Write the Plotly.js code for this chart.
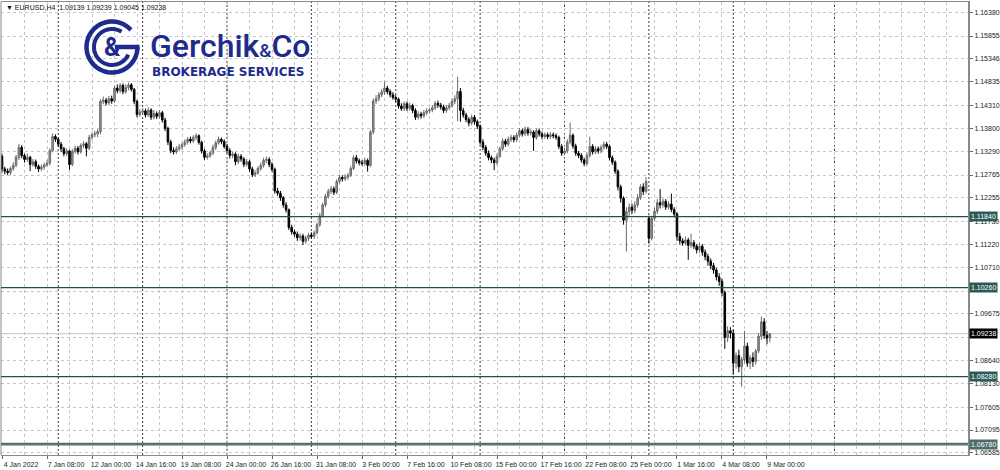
<!DOCTYPE html>
<html><head><meta charset="utf-8">
<script src="https://cdn.plot.ly/plotly-3.0.1.min.js"></script>
<style>html,body{margin:0;padding:0;background:#fff}#chart{width:1000px;height:470px}</style>
</head><body><div id="chart"></div>
<script>
// ---------------- DATA (EURUSD, H4) ----------------
const symbol = 'EURUSD,H4';

const open = [
1.1318,1.1290,
1.1285,1.1282,1.1291,1.1298,1.1316,1.1338,
1.1320,1.1311,1.1316,1.1300,1.1306,1.1296,
1.1290,1.1294,1.1299,1.1303,1.1331,1.1362,
1.1356,1.1345,1.1335,1.1324,1.1330,1.1300,
1.1329,1.1336,1.1328,1.1342,1.1346,1.1336,
1.1360,1.1366,1.1368,1.1373,1.1440,1.1443,
1.1437,1.1446,1.1441,1.1470,1.1464,1.1476,
1.1462,1.1471,1.1477,1.1467,1.1440,1.1411,
1.1416,1.1419,1.1410,1.1421,1.1405,1.1413,
1.1407,1.1415,1.1399,1.1380,1.1350,1.1331,
1.1328,1.1335,1.1339,1.1344,1.1350,1.1356,
1.1352,1.1360,1.1364,1.1349,1.1330,1.1316,
1.1319,1.1326,1.1338,1.1348,1.1356,1.1351,
1.1340,1.1331,1.1320,1.1323,1.1306,1.1318,
1.1312,1.1300,1.1306,1.1290,1.1277,1.1281,
1.1291,1.1298,1.1309,1.1311,1.1300,1.1289,
1.1241,1.1236,1.1226,1.1210,1.1199,1.1160,
1.1150,1.1145,1.1137,1.1141,1.1129,1.1136,
1.1143,1.1140,1.1148,1.1166,1.1186,1.1210,
1.1229,1.1240,1.1246,1.1238,1.1262,1.1271,
1.1268,1.1272,1.1276,1.1291,1.1315,1.1308,
1.1304,1.1302,1.1309,1.1298,1.1372,1.1441,
1.1446,1.1455,1.1461,1.1470,1.1462,1.1455,
1.1449,1.1445,1.1430,1.1424,1.1435,1.1425,
1.1431,1.1420,1.1405,1.1412,1.1408,1.1415,
1.1419,1.1421,1.1426,1.1436,1.1432,1.1428,
1.1420,1.1426,1.1431,1.1440,1.1446,1.1462,
1.1420,1.1410,1.1400,1.1392,1.1405,1.1395,
1.1385,1.1350,1.1338,1.1325,1.1315,1.1310,
1.1304,1.1318,1.1335,1.1352,1.1345,1.1356,
1.1360,1.1355,1.1365,1.1375,1.1368,1.1378,
1.1370,1.1372,1.1360,1.1375,1.1368,1.1362,
1.1366,1.1362,1.1366,1.1364,1.1360,1.1340,
1.1325,1.1330,1.1350,1.1365,1.1341,1.1325,
1.1320,1.1310,1.1302,1.1320,1.1340,1.1328,
1.1335,1.1330,1.1338,1.1345,1.1340,1.1315,
1.1305,1.1285,1.1250,1.1225,1.1176,1.1195,
1.1205,1.1198,1.1210,1.1226,1.1250,1.1240,
1.1180,1.1136,1.1180,1.1196,1.1215,1.1210,
1.1218,1.1205,1.1212,1.1200,1.1190,1.1140,
1.1130,1.1125,1.1132,1.1120,1.1126,1.1118,
1.1110,1.1118,1.1105,1.1095,1.1085,1.1075,
1.1065,1.1050,1.1040,1.1015,1.0915,1.0930,
1.0925,1.0858,1.0875,1.0850,1.0866,1.0896,
1.0858,1.0870,1.0862,1.0885,1.0918,1.0950,
1.0920,1.09139
];

const high = [
1.1324,1.1295,
1.1291,1.1295,1.1305,1.1321,1.1346,1.1343,
1.1324,1.1324,1.1319,1.1312,1.1311,1.1300,
1.1300,1.1304,1.1310,1.1336,1.1369,1.1367,
1.1360,1.1350,1.1339,1.1336,1.1333,1.1334,
1.1342,1.1341,1.1347,1.1352,1.1350,1.1366,
1.1372,1.1375,1.1378,1.1445,1.1451,1.1448,
1.1452,1.1453,1.1476,1.1478,1.1481,1.1480,
1.1478,1.1482,1.1481,1.1470,1.1444,1.1423,
1.1425,1.1424,1.1427,1.1425,1.1421,1.1418,
1.1421,1.1419,1.1404,1.1384,1.1355,1.1338,
1.1341,1.1346,1.1349,1.1356,1.1361,1.1362,
1.1365,1.1369,1.1367,1.1353,1.1335,1.1325,
1.1331,1.1344,1.1353,1.1362,1.1360,1.1356,
1.1346,1.1336,1.1329,1.1327,1.1324,1.1323,
1.1316,1.1312,1.1310,1.1295,1.1287,1.1296,
1.1304,1.1315,1.1318,1.1316,1.1305,1.1293,
1.1248,1.1241,1.1230,1.1216,1.1202,1.1166,
1.1155,1.1151,1.1147,1.1146,1.1142,1.1148,
1.1149,1.1153,1.1171,1.1192,1.1215,1.1235,
1.1246,1.1252,1.1251,1.1267,1.1277,1.1276,
1.1278,1.1281,1.1297,1.1320,1.1321,1.1313,
1.1310,1.1315,1.1313,1.1377,1.1447,1.1454,
1.1461,1.1468,1.1484,1.1475,1.1467,1.1461,
1.1454,1.1449,1.1436,1.1440,1.1440,1.1437,
1.1435,1.1425,1.1418,1.1417,1.1421,1.1425,
1.1426,1.1432,1.1441,1.1442,1.1437,1.1433,
1.1432,1.1437,1.1446,1.1454,1.1495,1.1470,
1.1426,1.1415,1.1405,1.1411,1.1410,1.1400,
1.1389,1.1356,1.1343,1.1331,1.1320,1.1315,
1.1324,1.1340,1.1358,1.1357,1.1362,1.1366,
1.1365,1.1371,1.1381,1.1380,1.1384,1.1383,
1.1378,1.1376,1.1380,1.1380,1.1373,1.1371,
1.1371,1.1372,1.1371,1.1369,1.1364,1.1345,
1.1336,1.1356,1.1393,1.1369,1.1346,1.1330,
1.1325,1.1315,1.1326,1.1362,1.1345,1.1341,
1.1340,1.1344,1.1351,1.1350,1.1344,1.1320,
1.1309,1.1289,1.1255,1.1229,1.1205,1.1213,
1.1213,1.1218,1.1234,1.1256,1.1258,1.1272,
1.1186,1.1186,1.1204,1.1223,1.1245,1.1224,
1.1223,1.1218,1.1235,1.1205,1.1194,1.1148,
1.1136,1.1140,1.1137,1.1146,1.1132,1.1123,
1.1126,1.1123,1.1111,1.1101,1.1091,1.1081,
1.1070,1.1058,1.1046,1.1020,1.0940,1.0938,
1.0932,1.0882,1.0888,1.0872,1.0930,1.0904,
1.0876,1.0882,1.0890,1.0925,1.0962,1.0958,
1.0930,1.09239
];

const low = [
1.1282,1.1278,
1.1277,1.1276,1.1286,1.1294,1.1310,1.1314,
1.1304,1.1306,1.1285,1.1295,1.1290,1.1283,
1.1285,1.1288,1.1295,1.1298,1.1327,1.1350,
1.1339,1.1328,1.1318,1.1319,1.1288,1.1296,
1.1324,1.1322,1.1324,1.1336,1.1318,1.1332,
1.1355,1.1360,1.1361,1.1367,1.1434,1.1431,
1.1432,1.1435,1.1437,1.1458,1.1459,1.1456,
1.1457,1.1465,1.1462,1.1434,1.1405,1.1406,
1.1410,1.1404,1.1406,1.1399,1.1400,1.1401,
1.1402,1.1393,1.1374,1.1343,1.1325,1.1322,
1.1323,1.1329,1.1332,1.1339,1.1344,1.1347,
1.1348,1.1354,1.1344,1.1324,1.1310,1.1311,
1.1315,1.1321,1.1332,1.1344,1.1345,1.1335,
1.1325,1.1313,1.1314,1.1298,1.1301,1.1306,
1.1294,1.1295,1.1284,1.1272,1.1272,1.1277,
1.1286,1.1293,1.1303,1.1294,1.1283,1.1235,
1.1230,1.1219,1.1204,1.1193,1.1154,1.1144,
1.1139,1.1130,1.1131,1.1121,1.1124,1.1130,
1.1135,1.1134,1.1144,1.1161,1.1182,1.1205,
1.1224,1.1234,1.1232,1.1234,1.1257,1.1262,
1.1263,1.1266,1.1272,1.1287,1.1302,1.1298,
1.1297,1.1297,1.1284,1.1294,1.1367,1.1434,
1.1440,1.1450,1.1455,1.1456,1.1449,1.1444,
1.1439,1.1424,1.1419,1.1419,1.1419,1.1420,
1.1414,1.1399,1.1400,1.1402,1.1403,1.1410,
1.1413,1.1416,1.1421,1.1426,1.1422,1.1414,
1.1415,1.1421,1.1426,1.1434,1.1396,1.1395,
1.1404,1.1394,1.1385,1.1387,1.1389,1.1379,
1.1344,1.1332,1.1319,1.1309,1.1303,1.1287,
1.1299,1.1314,1.1330,1.1339,1.1340,1.1350,
1.1349,1.1350,1.1360,1.1362,1.1363,1.1364,
1.1364,1.1330,1.1355,1.1362,1.1356,1.1357,
1.1356,1.1357,1.1358,1.1355,1.1334,1.1319,
1.1320,1.1325,1.1345,1.1335,1.1319,1.1314,
1.1304,1.1296,1.1298,1.1315,1.1322,1.1323,
1.1324,1.1325,1.1333,1.1334,1.1309,1.1299,
1.1279,1.1242,1.1215,1.1166,1.1106,1.1183,
1.1190,1.1192,1.1204,1.1221,1.1232,1.1235,
1.1124,1.1131,1.1174,1.1190,1.1202,1.1204,
1.1199,1.1200,1.1194,1.1182,1.1130,1.1122,
1.1119,1.1120,1.1088,1.1114,1.1112,1.1102,
1.1104,1.1097,1.1087,1.1075,1.1067,1.1057,
1.1042,1.1030,1.1007,1.0890,1.0905,1.0913,
1.0834,1.0846,1.0838,1.0806,1.0858,1.0850,
1.0845,1.0850,1.0855,1.0880,1.0910,1.0912,
1.0900,1.09045
];

const close = [
1.1290,1.1285,
1.1282,1.1291,1.1298,1.1316,1.1338,1.1320,
1.1311,1.1316,1.1300,1.1306,1.1296,1.1290,
1.1294,1.1299,1.1303,1.1331,1.1362,1.1356,
1.1345,1.1335,1.1324,1.1330,1.1300,1.1329,
1.1336,1.1328,1.1342,1.1346,1.1336,1.1360,
1.1366,1.1368,1.1373,1.1440,1.1443,1.1437,
1.1446,1.1441,1.1470,1.1464,1.1476,1.1462,
1.1471,1.1477,1.1467,1.1440,1.1411,1.1416,
1.1419,1.1410,1.1421,1.1405,1.1413,1.1407,
1.1415,1.1399,1.1380,1.1350,1.1331,1.1328,
1.1335,1.1339,1.1344,1.1350,1.1356,1.1352,
1.1360,1.1364,1.1349,1.1330,1.1316,1.1319,
1.1326,1.1338,1.1348,1.1356,1.1351,1.1340,
1.1331,1.1320,1.1323,1.1306,1.1318,1.1312,
1.1300,1.1306,1.1290,1.1277,1.1281,1.1291,
1.1298,1.1309,1.1311,1.1300,1.1289,1.1241,
1.1236,1.1226,1.1210,1.1199,1.1160,1.1150,
1.1145,1.1137,1.1141,1.1129,1.1136,1.1143,
1.1140,1.1148,1.1166,1.1186,1.1210,1.1229,
1.1240,1.1246,1.1238,1.1262,1.1271,1.1268,
1.1272,1.1276,1.1291,1.1315,1.1308,1.1304,
1.1302,1.1309,1.1298,1.1372,1.1441,1.1446,
1.1455,1.1461,1.1470,1.1462,1.1455,1.1449,
1.1445,1.1430,1.1424,1.1435,1.1425,1.1431,
1.1420,1.1405,1.1412,1.1408,1.1415,1.1419,
1.1421,1.1426,1.1436,1.1432,1.1428,1.1420,
1.1426,1.1431,1.1440,1.1446,1.1462,1.1420,
1.1410,1.1400,1.1392,1.1405,1.1395,1.1385,
1.1350,1.1338,1.1325,1.1315,1.1310,1.1304,
1.1318,1.1335,1.1352,1.1345,1.1356,1.1360,
1.1355,1.1365,1.1375,1.1368,1.1378,1.1370,
1.1372,1.1360,1.1375,1.1368,1.1362,1.1366,
1.1362,1.1366,1.1364,1.1360,1.1340,1.1325,
1.1330,1.1350,1.1365,1.1341,1.1325,1.1320,
1.1310,1.1302,1.1320,1.1340,1.1328,1.1335,
1.1330,1.1338,1.1345,1.1340,1.1315,1.1305,
1.1285,1.1250,1.1225,1.1176,1.1195,1.1205,
1.1198,1.1210,1.1226,1.1250,1.1240,1.1262,
1.1136,1.1180,1.1196,1.1215,1.1210,1.1218,
1.1205,1.1212,1.1200,1.1190,1.1140,1.1130,
1.1125,1.1132,1.1120,1.1126,1.1118,1.1110,
1.1118,1.1105,1.1095,1.1085,1.1075,1.1065,
1.1050,1.1040,1.1015,1.0915,1.0930,1.0925,
1.0858,1.0875,1.0850,1.0866,1.0896,1.0858,
1.0870,1.0862,1.0885,1.0918,1.0950,1.0920,
1.0914,1.09238
];

// time-axis labels (bar index of each label, label text)
const xTickBars = [0,16,32,48,64,80,96,112,128,144,160,176,192,208,224,240,256,272];
const xTickLabels = ['4 Jan 2022','7 Jan 08:00','12 Jan 00:00','14 Jan 16:00','19 Jan 08:00','24 Jan 00:00',
  '26 Jan 16:00','31 Jan 08:00','3 Feb 00:00','7 Feb 16:00','10 Feb 08:00','15 Feb 00:00',
  '17 Feb 16:00','22 Feb 08:00','25 Feb 00:00','1 Mar 16:00','4 Mar 08:00','9 Mar 00:00'];
// price-axis ticks
const yTickValues = [1.16380,1.15855,1.15346,1.14835,1.14310,1.13800,1.13290,1.12765,1.12255,1.11730,
  1.11220,1.10710,1.10185,1.09675,1.09150,1.08640,1.08130,1.07605,1.07095,1.06585];
// tick labels that sit under a price tag in the reference are covered, so they are left blank
const yTickCovered = [1.10185, 1.09150];
// weekly period separators (bar index of Monday 00:00)
const weekStartBars = [20,50,80,110,140,170,200,230,260,296];
// horizontal levels
const levelPrices = [1.11840, 1.10260, 1.08280, 1.06780];
const lastPrice = close[close.length - 1];

// ---------------- STYLE ----------------
const W = 1000, H = 470;
const M = {l: 1, r: 32, t: 2, b: 15};
const plotW = W - M.l - M.r, plotH = H - M.t - M.b;
const FONT = 'Liberation Sans, Arial, sans-serif';
const levelLine = [{c:'#244f4b',w:1.3},{c:'#244f4b',w:1.3},{c:'#244f4b',w:1.3},{c:'#56716f',w:2.6}];
const levelBg = ['#2c5a56','#2c5a56','#2c5a56','#4d6c6a'];
const gridColor = '#c6c6c6';
const logoBlue = '#1f2b8c';

const barIndex = close.map((_, i) => i);
const f5 = v => v.toFixed(5);

const candles = {
  type: 'candlestick', x: barIndex, open: open, high: high, low: low, close: close,
  increasing: {line: {color: '#6a6a6a', width: 1}, fillcolor: '#9a9a9a'},
  decreasing: {line: {color: '#000000', width: 1}, fillcolor: '#000000'},
  whiskerwidth: 0, hoverinfo: 'skip', showlegend: false
};

const shapes = [];
// left border
shapes.push({type:'line', xref:'paper', yref:'paper', x0:0, x1:0, y0:0, y1:1, line:{color:'#8a8a8a', width:1}});
// weekly separators
weekStartBars.forEach(b => shapes.push({type:'line', xref:'x', yref:'paper', x0:b, x1:b, y0:0, y1:1,
  layer:'below', line:{color:'#3a3a3a', width:1, dash:'2px,2px'}}));
// current price line
shapes.push({type:'line', xref:'paper', yref:'y', x0:0, x1:1, y0:lastPrice, y1:lastPrice,
  layer:'below', line:{color:'#cfcfcf', width:1.4}});
// level lines
levelPrices.forEach((p, i) => shapes.push({type:'line', xref:'paper', yref:'y', x0:0, x1:1, y0:p, y1:p,
  layer:'above', line:{color:levelLine[i].c, width:levelLine[i].w}}));

// logo emblem (pixel-sized paths anchored in paper space)
const ex = (112 - M.l) / plotW, ey = 1 - (47 - M.t) / plotH;
function arc(r, a0, a1) {
  const pts = [];
  for (let k = 0; k <= 48; k++) {
    const a = (a0 + (a1 - a0) * k / 48) * Math.PI / 180;
    pts.push((r * Math.cos(a)).toFixed(2) + ',' + (r * Math.sin(a)).toFixed(2));
  }
  return 'M' + pts.join('L');
}
const emb = {type:'path', xref:'paper', yref:'paper', xsizemode:'pixel', ysizemode:'pixel', xanchor:ex, yanchor:ey, layer:'above'};
shapes.push(Object.assign({}, emb, {path: arc(25.5, 42, 360), line:{color:logoBlue, width:4.5}}));
shapes.push(Object.assign({}, emb, {path: arc(18, 58, 335), line:{color:logoBlue, width:4}}));
shapes.push(Object.assign({}, emb, {path: 'M3,0L27.5,0', line:{color:logoBlue, width:4.5}}));

const annotations = [];
// header
annotations.push({xref:'paper', yref:'paper', x:3/plotW, y:1 - 5.5/plotH, xanchor:'left', yanchor:'middle', showarrow:false,
  text:'▼ ' + symbol + '  ' + [open, high, low, close].map(a => f5(a[a.length-1])).join(' '),
  font:{family:FONT, size:7, color:'#111'}});
// logo text
annotations.push({xref:'paper', yref:'paper', x:ex, y:1 - (48 - M.t)/plotH, xanchor:'center', yanchor:'middle', showarrow:false,
  text:'&amp;', font:{family:'Roboto, Liberation Sans, sans-serif', size:25, color:logoBlue, weight:700}});
annotations.push({xref:'paper', yref:'paper', x:(148 - M.l)/plotW, y:1 - (46 - M.t)/plotH, xanchor:'left', yanchor:'middle', showarrow:false,
  text:'Gerchik<span style="font-size:19px">&amp;</span>Co', font:{family:'Roboto, Liberation Sans, sans-serif', size:32, color:logoBlue, weight:500}});
annotations.push({xref:'paper', yref:'paper', x:(150 - M.l)/plotW, y:1 - (71.5 - M.t)/plotH, xanchor:'left', yanchor:'middle', showarrow:false,
  text:'BROKERAGE SERVICES', font:{family:'DejaVu Sans, sans-serif', size:12, color:logoBlue, weight:700}});
// level price tags
levelPrices.forEach((p, i) => annotations.push({xref:'paper', yref:'y', x:1, y:p, xanchor:'left', yanchor:'middle', xshift:1,
  showarrow:false, text:f5(p), bgcolor:levelBg[i], borderpad:1,
  font:{family:FONT, size:7, color:'#ffffff'}}));
// current price tag
annotations.push({xref:'paper', yref:'y', x:1, y:lastPrice, xanchor:'left', yanchor:'middle', xshift:1,
  showarrow:false, text:f5(lastPrice), bgcolor:'#000000', borderpad:1,
  font:{family:FONT, size:7, color:'#ffffff'}});

const layout = {
  width: W, height: H, margin: M,
  paper_bgcolor: '#ffffff', plot_bgcolor: '#ffffff',
  showlegend: false, boxgap: 0.2,
  xaxis: {
    range: [-0.356, 343.47], fixedrange: true, rangeslider: {visible: false},
    tickmode: 'array', tickvals: xTickBars, ticktext: xTickLabels,
    ticks: 'outside', ticklen: 3, tickcolor: '#666', ticklabelshift: 19,
    tickfont: {family: FONT, size: 7, color: '#222'},
    showgrid: true, gridcolor: gridColor, griddash: 'dot', gridwidth: 1,
    minor: {tickmode: 'linear', tick0: 0, dtick: 8, showgrid: true, gridcolor: gridColor, griddash: 'dot', ticks: ''},
    showline: true, linecolor: '#8a8a8a', linewidth: 1, mirror: true, zeroline: false
  },
  yaxis: {
    side: 'right', range: [1.06539, 1.16612], fixedrange: true,
    tickmode: 'array', tickvals: yTickValues,
    ticktext: yTickValues.map(v => yTickCovered.includes(v) ? '' : f5(v)),
    ticks: 'outside', ticklen: 3, tickcolor: '#666',
    tickfont: {family: FONT, size: 7, color: '#222'},
    showgrid: true, gridcolor: gridColor, griddash: 'dot', gridwidth: 1,
    showline: true, linecolor: '#8a8a8a', linewidth: 2, zeroline: false
  },
  shapes: shapes, annotations: annotations
};

Plotly.newPlot('chart', [candles], layout, {displayModeBar: false, staticPlot: true});
</script>
</body></html>
